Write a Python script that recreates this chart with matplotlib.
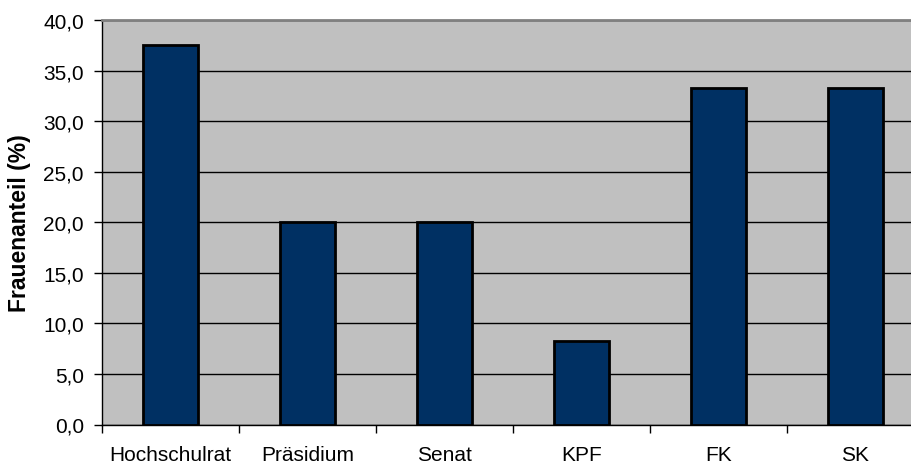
import matplotlib
matplotlib.use('Agg')
from matplotlib import pyplot as plt
from matplotlib.ticker import FuncFormatter

# Frauenanteil in den Gremien
gremien = ['Hochschulrat', 'Präsidium', 'Senat', 'KPF', 'FK', 'SK']
anteil = [37.5, 20.0, 20.0, 8.3, 33.3, 33.3]
y_ticks = [0, 5, 10, 15, 20, 25, 30, 35, 40]

plt.rcParams['font.family'] = ['Liberation Sans', 'DejaVu Sans']

fig = plt.figure(figsize=(9.12, 4.64), dpi=100)
# die Zeichenfläche geht rechts über den Bildrand hinaus (wie im Original)
ax = fig.add_axes([102 / 912, 38.5 / 464, 822 / 912, 404.5 / 464])
ax.set_facecolor('#c0c0c0')

x = range(len(gremien))
ax.bar(x, anteil, width=0.4, color='#003063', edgecolor='black', linewidth=2, zorder=3)

ax.set_xlim(-0.5, len(gremien) - 0.5)
ax.set_ylim(0, 40)
ax.set_yticks(y_ticks)
ax.yaxis.set_major_formatter(FuncFormatter(lambda v, p: f'{v:.1f}'.replace('.', ',')))
ax.yaxis.grid(True, color='black', linewidth=1, zorder=1)

# Kategorienbeschriftung mittig, Striche an den Grenzen
ax.set_xticks([i - 0.5 for i in range(len(gremien) + 1)])
ax.set_xticklabels([])
ax.set_xticks(list(x), minor=True)
ax.set_xticklabels(gremien, minor=True, fontsize=15)
ax.tick_params(axis='x', which='minor', length=0, pad=15)
ax.tick_params(axis='x', which='major', length=6, width=1, direction='out')
ax.tick_params(axis='y', length=6, width=1, labelsize=15, pad=7)

ax.set_ylabel('Frauenanteil (%)', fontsize=16.5, fontweight='bold', labelpad=9)

for s in ['top', 'right']:
    ax.spines[s].set_color('#808080')
    ax.spines[s].set_linewidth(2)
for s in ['left', 'bottom']:
    ax.spines[s].set_color('black')
    ax.spines[s].set_linewidth(1)

fig.savefig('out.png', dpi=100)
